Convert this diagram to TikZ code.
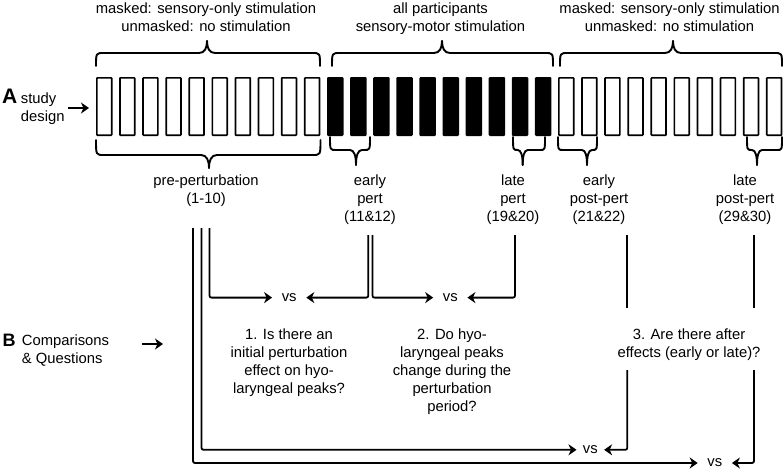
\documentclass[tikz,border=0pt]{standalone}
\usepackage{fontspec}
\setmainfont{Liberation Sans}
\usetikzlibrary{arrows.meta}
\newcommand\mybrace[7]{%
 \draw[brc] ({#1},{#4}) .. controls ({#1},{#5}) .. ({#1+#7},{#5}) -- ({#3-#7},{#5}) .. controls ({#3-0.3*#7},{#5}) and ({#3},{#5+0.4*(#6-#5)}) .. ({#3},{#6});
 \draw[brc] ({#2},{#4}) .. controls ({#2},{#5}) .. ({#2-#7},{#5}) -- ({#3+#7},{#5}) .. controls ({#3+0.3*#7},{#5}) and ({#3},{#5+0.4*(#6-#5)}) .. ({#3},{#6});}
\begin{document}
\begin{tikzpicture}[x=1pt,y=-1pt,
  txt/.style={font=\fontsize{14.8}{18}\selectfont, inner sep=0pt, align=center, anchor=north},
  lab/.style={font=\fontsize{14.8}{18}\selectfont, inner sep=0pt, align=left, anchor=north west},
  big/.style={font=\fontsize{21}{21}\selectfont\bfseries, inner sep=0pt, anchor=base west},
  boxw/.style={draw, line width=1.7pt, minimum width=14.8pt, minimum height=57.3pt, inner sep=0pt, rounded corners=0.6pt},
  boxb/.style={boxw, fill=black},
  brc/.style={line width=1.9pt, line cap=round},
  vsn/.style={font=\fontsize{14.8}{18}\selectfont, inner ysep=0pt, inner xsep=9.5pt},
  con/.style={line width=1.8pt, rounded corners=2pt},
  arr/.style={con, -{Stealth[length=8pt, width=11pt, inset=2.5pt]}},
]
\useasboundingbox (0,0) rectangle (784,472);

% boxes
\foreach \i in {1,...,30}{
  \pgfmathsetmacro\bx{96+8.25+(\i-1)*23.1}
  \ifnum\i>10 \ifnum\i<21
    \node[boxb] (b\i) at (\bx,106.5) {};
  \else
    \node[boxw] (b\i) at (\bx,106.5) {};
  \fi\else
    \node[boxw] (b\i) at (\bx,106.5) {};
  \fi
}

% headings
\node[big] (A) at (2,103) {A};
\node[lab] (Alab) at (20.7,92.4) {study\\design};
\coordinate (Aa) at (68,108);
\coordinate (Ab) at (89,108);
\draw[arr] (Aa) -- (Ab);

\node[big, font=\fontsize{18}{18}\selectfont\bfseries] (B) at (2.5,346) {B};
\node[lab] (Blab) at (21.7,334.4) {Comparisons\\\& Questions};
\coordinate (Ba) at (142,344);
\coordinate (Bb) at (163,344);
\draw[arr] (Ba) -- (Bb);

% top labels
\node[txt] (t1) at (206,2.1) {masked: sensory-only stimulation\\unmasked: no stimulation};
\node[txt] (t2) at (440.5,2.1) {all participants\\sensory-motor stimulation};
\node[txt] (t3) at (669.5,2.1) {masked: sensory-only stimulation\\unmasked: no stimulation};

% top braces
\mybrace{96}{320}{207}{66}{53}{41}{8}
\mybrace{332}{553}{442}{66}{53}{41}{8}
\mybrace{560}{782}{673}{66}{53}{41}{8}

% bottom braces
\mybrace{96}{320.5}{209}{140}{155}{168}{8}
\mybrace{330}{370}{356}{137}{150}{165}{6}
\mybrace{513}{545}{522.7}{137}{150}{165}{5}
\mybrace{558}{597}{587}{137}{150}{165}{5}
\mybrace{747}{782}{757}{137}{150}{165}{5}

% bottom labels
\node[txt] (pre) at (206,174.4) {pre-perturbation\\(1-10)};
\node[txt] (ep) at (370,174.4) {early\\pert\\(11\&12)};
\node[txt] (lp) at (513,174.4) {late\\pert\\(19\&20)};
\node[txt] (epp) at (599,174.4) {early\\post-pert\\(21\&22)};
\node[txt] (lpp) at (745,174.4) {late\\post-pert\\(29\&30)};

% questions
\node[txt] (q1) at (289,328.4) {1. Is there an\\initial perturbation\\effect on hyo-\\laryngeal peaks?};
\node[txt] (q2) at (452,328.4) {2. Do hyo-\\laryngeal peaks\\change during the\\perturbation\\period?};
\node[txt] (q3) at (689,328.4) {3. Are there after\\effects (early or late)?};

% vs nodes
\node[vsn] (vs1) at (289.2,297.6) {vs};
\node[vsn] (vs2) at (450.3,297.6) {vs};
\node[vsn, inner xsep=6.2pt] (vs3) at (590.3,449.8) {vs};
\node[vsn] (vs4) at (714.8,463) {vs};

% line start coordinates
\coordinate (la) at (193,228);
\coordinate (lb) at (201.5,228);
\coordinate (lc) at (209.5,228);
\coordinate (ld) at (368.3,235);
\coordinate (le) at (372.5,235);
\coordinate (lf) at (515,235);
\coordinate (lg) at (627.3,235);
\coordinate (lg1) at (627.3,308.3);
\coordinate (lg2) at (627.3,370);
\coordinate (lh) at (754,235);
\coordinate (lh1) at (754,308.3);
\coordinate (lh2) at (754,370);

% connectors
\draw[arr] (lc) |- (vs1);
\draw[arr] (ld) |- (vs1);
\draw[arr] (le) |- (vs2);
\draw[arr] (lf) |- (vs2);
\draw[arr] (lb) |- (vs3);
\draw[con] (lg) -- (lg1);
\draw[arr] (lg2) |- (vs3);
\draw[arr] (la) |- (vs4);
\draw[con] (lh) -- (lh1);
\draw[arr] (lh2) |- (vs4);
\end{tikzpicture}
\end{document}
